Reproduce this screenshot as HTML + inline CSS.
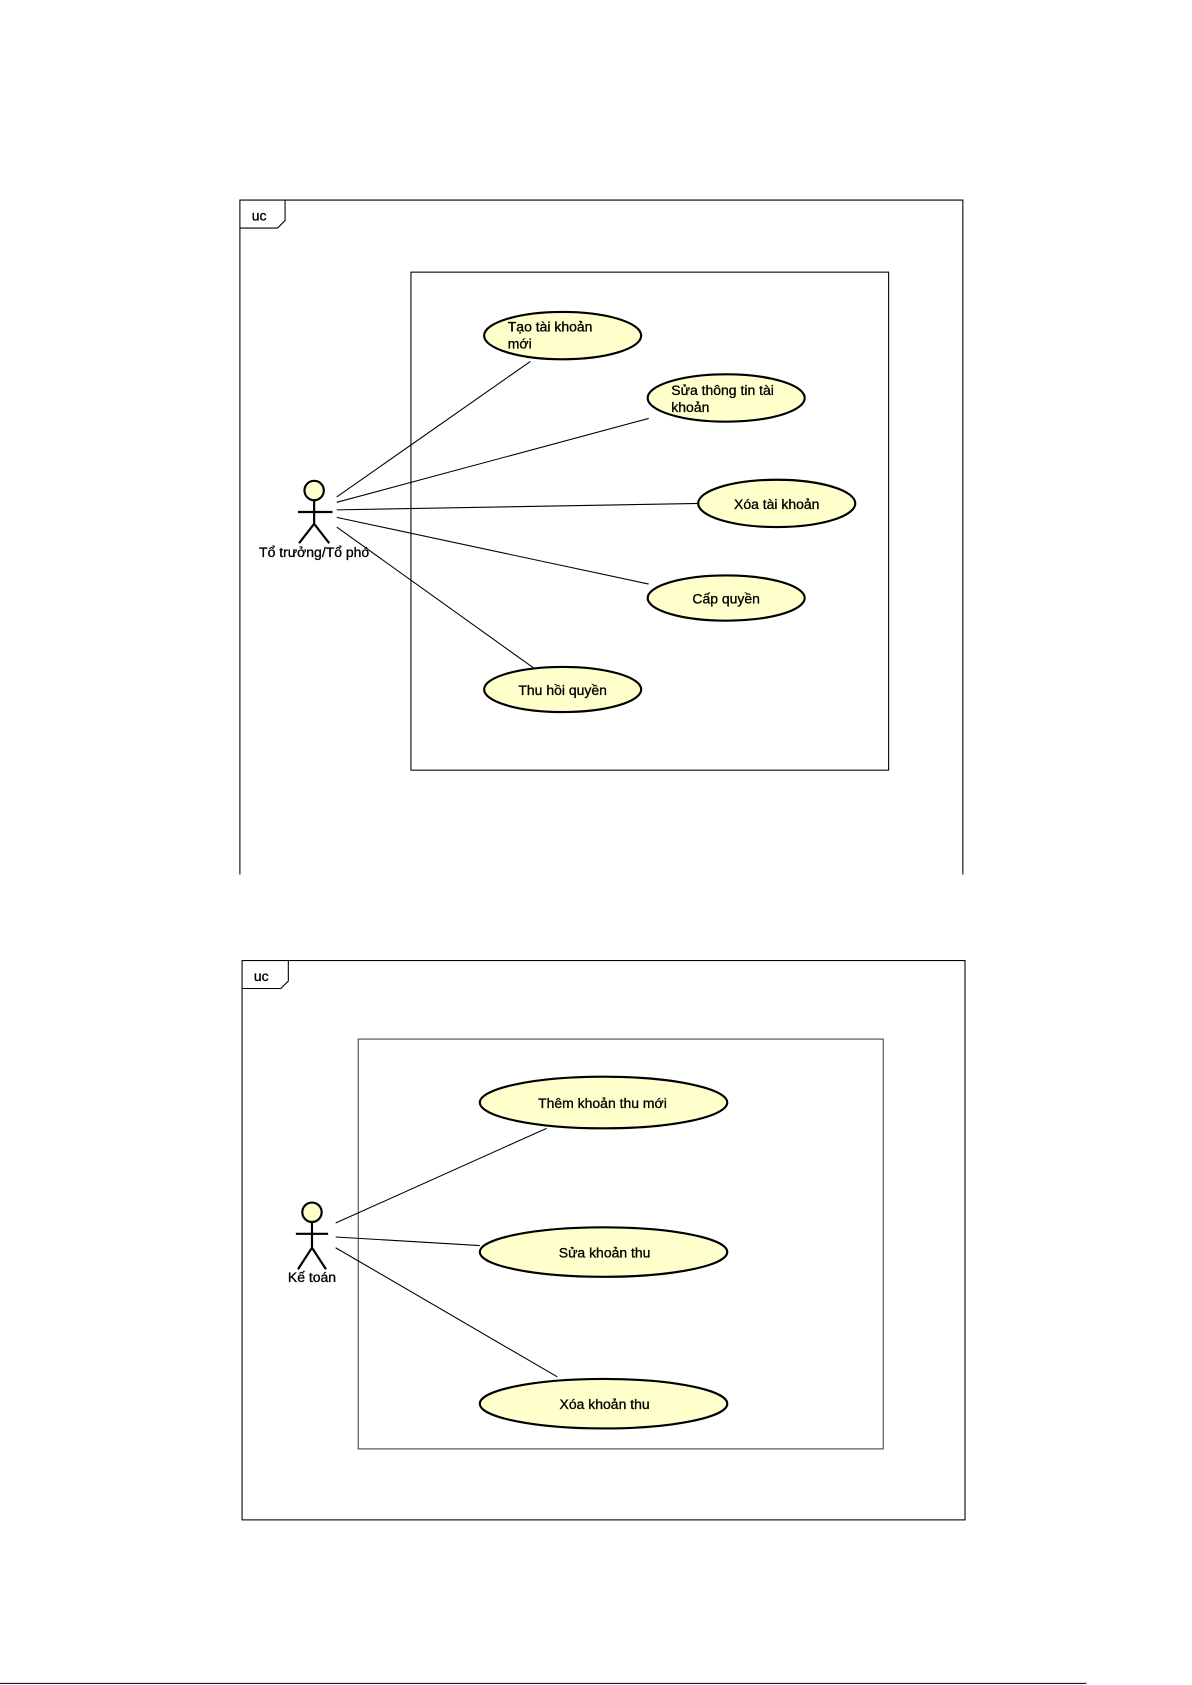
<!DOCTYPE html>
<html><head><meta charset="utf-8"><style>
html,body{margin:0;padding:0;background:#fff;}
svg{display:block;}
text{font-family:"Liberation Sans",Arial,sans-serif;font-size:13px;fill:#000;stroke:#000;stroke-width:0.3;}
</style></head><body>
<svg width="1192" height="1685" viewBox="0 0 1108 1566.5" preserveAspectRatio="none" xmlns="http://www.w3.org/2000/svg">
<rect width="1108" height="1567" fill="#fff"/>
<!-- Diagram 1 -->
<g stroke="#000" fill="none" stroke-width="1">
<path d="M223,813 V186 H895 V813"/>
<path d="M223,212 H258 L265,205 V186"/>
<rect x="382" y="253" width="444" height="463"/>
<line x1="313" y1="462" x2="493" y2="336"/>
<line x1="313" y1="467" x2="603" y2="389"/>
<line x1="313" y1="474" x2="650" y2="468"/>
<line x1="313" y1="481" x2="603" y2="543"/>
<line x1="313" y1="490" x2="496" y2="621"/>
</g>
<text x="234" y="205" font-size="12">uc</text>
<g stroke="#000" stroke-width="2" fill="#ffffcc">
<ellipse cx="523" cy="312" rx="73" ry="22"/>
<ellipse cx="675" cy="370" rx="73" ry="22"/>
<ellipse cx="722" cy="468" rx="73" ry="22"/>
<ellipse cx="675" cy="556" rx="73" ry="21"/>
<ellipse cx="523" cy="641" rx="73" ry="21"/>
</g>
<text x="472" y="308">Tạo tài khoản</text>
<text x="472" y="324">mới</text>
<text x="624" y="367">Sửa thông tin tài</text>
<text x="624" y="383">khoản</text>
<text x="722" y="473" text-anchor="middle">Xóa tài khoản</text>
<text x="675" y="561" text-anchor="middle">Cấp quyền</text>
<text x="523" y="646" text-anchor="middle">Thu hồi quyền</text>
<g stroke="#000" stroke-width="2" fill="none">
<circle cx="292" cy="456" r="9" fill="#ffffcc"/>
<line x1="292" y1="465" x2="292" y2="487"/>
<line x1="277" y1="476" x2="309" y2="476"/>
<line x1="292" y1="487" x2="278" y2="505"/>
<line x1="292" y1="487" x2="306" y2="505"/>
</g>
<text x="292" y="518" text-anchor="middle">Tổ trưởng/Tổ phó</text>

<!-- Diagram 2 -->
<g stroke="#000" fill="none" stroke-width="1">
<rect x="225" y="893" width="672" height="520"/>
<path d="M225,919 H261 L268,912 V893"/>
<rect x="333" y="966" width="488" height="381" stroke="#444"/>
<line x1="312" y1="1137" x2="508" y2="1049"/>
<line x1="312" y1="1150" x2="446" y2="1158"/>
<line x1="312" y1="1160" x2="518" y2="1280"/>
</g>
<text x="236" y="912" font-size="12">uc</text>
<g stroke="#000" stroke-width="2" fill="#ffffcc">
<ellipse cx="561" cy="1025" rx="115" ry="24"/>
<ellipse cx="561" cy="1164" rx="115" ry="23"/>
<ellipse cx="561" cy="1305" rx="115" ry="23"/>
</g>
<text x="560" y="1030" text-anchor="middle">Thêm khoản thu mới</text>
<text x="562" y="1169" text-anchor="middle">Sửa khoản thu</text>
<text x="562" y="1310" text-anchor="middle">Xóa khoản thu</text>
<g stroke="#000" stroke-width="2" fill="none">
<circle cx="290" cy="1127" r="9" fill="#ffffcc"/>
<line x1="290" y1="1136" x2="290" y2="1160"/>
<line x1="275" y1="1147" x2="305" y2="1147"/>
<line x1="290" y1="1160" x2="277" y2="1180"/>
<line x1="290" y1="1160" x2="303" y2="1180"/>
</g>
<text x="290" y="1192" text-anchor="middle">Kế toán</text>
<line x1="0" y1="1565" x2="1010" y2="1565" stroke="#000" stroke-width="1"/>
</svg>
</body></html>
